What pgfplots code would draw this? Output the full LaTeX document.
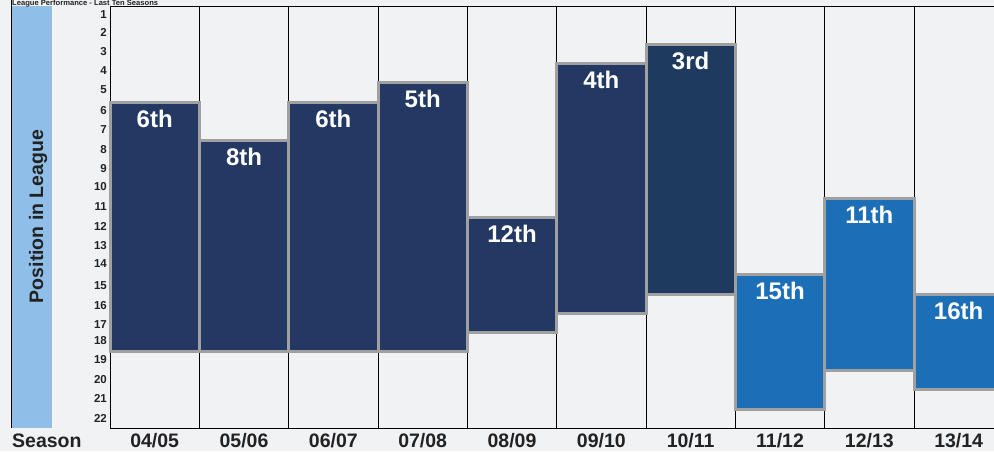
\documentclass[border=0pt]{standalone}
\usepackage{fontspec}
\setmainfont{Liberation Sans}
\usepackage{pgfplots}
\usepackage{pgfplotstable}
\pgfplotsset{compat=1.18}

\definecolor{bg}{HTML}{F1F2F4}
\definecolor{navy}{HTML}{233862}
\definecolor{navyb}{HTML}{1E3A5F}
\definecolor{midblue}{HTML}{1C6FB7}
\definecolor{band}{HTML}{8FBFE8}
\definecolor{edge}{HTML}{A0A0A0}
\definecolor{txt}{HTML}{222222}

% label positions: x, baseline (position units), text
\pgfplotstableread{
x y label
0 6.84 6th
1 8.82 8th
2 6.84 6th
3 5.79 5th
4 12.85 12th
5 4.80 4th
6 3.83 3rd
7 15.80 15th
8 11.84 11th
9 16.86 16th
}\labels

\begin{document}
\begin{tikzpicture}
\useasboundingbox (0pt,0pt) rectangle (994pt,451pt);
\fill[bg] (0pt,0pt) rectangle (994pt,451pt);
\clip (0pt,0pt) rectangle (994pt,451pt);
\fill[band] (12pt,23pt) rectangle (52pt,445pt);
\draw[black, line width=0.9pt] (11.5pt,23pt) -- (11.5pt,451pt);
\node[rotate=90, anchor=base, text=txt, inner sep=0pt,
  font=\fontsize{19.5}{20}\selectfont\bfseries] at (43pt,234.5pt) {Position in League};
\node[anchor=base west, inner sep=0pt, text=txt,
  font=\fontsize{19.5}{20}\selectfont\bfseries] at (12pt,4pt) {Season};

\begin{axis}[
  at={(110pt,23pt)}, anchor=south west,
  scale only axis, width=886pt, height=422pt,
  xmin=-0.5, xmax=9.418, ymin=0.53, ymax=22.5,
  y dir=reverse, clip=false,
  axis line style={black, line width=0.9pt},
  xtick={0,...,9},
  xticklabels={04/05,05/06,06/07,07/08,08/09,09/10,10/11,11/12,12/13,13/14},
  minor xtick={-0.5,0.5,...,9.5},
  xminorgrids=true,
  minor grid style={black, line width=0.9pt},
  ytick={1,1.92,2.91,3.90,4.87,5.98,6.96,8.00,8.99,9.92,10.99,12.00,12.99,13.95,15.11,16.12,17.11,17.94,18.95,19.99,20.98,22.00},
  yticklabels={1,2,3,4,5,6,7,8,9,10,11,12,13,14,15,16,17,18,19,20,21,22},
  major tick length=0pt, minor tick length=0pt,
  /pgf/number format/assume math mode=true,
  xticklabel style={anchor=base, yshift=-19pt, inner sep=0pt, text=txt,
    font=\fontsize{19.5}{20}\selectfont\bfseries},
  yticklabel style={anchor=east, xshift=-3pt, inner sep=0pt, text=txt,
    font=\fontsize{11.5}{12}\selectfont\bfseries},
  bar/.style={draw=edge, line width=3pt, fill=navy},
]
\addplot[bar] coordinates {(-0.5,5.54) (0.5,5.54) (0.5,18.52) (-0.5,18.52)} -- cycle;
\addplot[bar] coordinates {(0.5,7.52) (1.5,7.52) (1.5,18.52) (0.5,18.52)} -- cycle;
\addplot[bar] coordinates {(1.5,5.54) (2.5,5.54) (2.5,18.52) (1.5,18.52)} -- cycle;
\addplot[bar] coordinates {(2.5,4.49) (3.5,4.49) (3.5,18.52) (2.5,18.52)} -- cycle;
\addplot[bar] coordinates {(3.5,11.55) (4.5,11.55) (4.5,17.54) (3.5,17.54)} -- cycle;
\addplot[bar] coordinates {(4.5,3.50) (5.5,3.50) (5.5,16.55) (4.5,16.55)} -- cycle;
\addplot[bar, fill=navyb] coordinates {(5.5,2.53) (6.5,2.53) (6.5,15.55) (5.5,15.55)} -- cycle;
\addplot[bar, fill=midblue] coordinates {(6.5,14.50) (7.5,14.50) (7.5,21.56) (6.5,21.56)} -- cycle;
\addplot[bar, fill=midblue] coordinates {(7.5,10.54) (8.5,10.54) (8.5,19.51) (7.5,19.51)} -- cycle;
\addplot[bar, fill=midblue] coordinates {(8.5,15.56) (9.5,15.56) (9.5,20.51) (8.5,20.51)} -- cycle;

\addplot[draw=none, mark=none, nodes near coords, point meta=explicit symbolic,
  every node near coord/.style={anchor=base, inner sep=0pt, text=white,
    font=\fontsize{24}{24}\selectfont\bfseries}]
  table[x=x, y=y, meta=label] {\labels};
\end{axis}
\node[anchor=base west, inner sep=0pt, text=txt,
  font=\fontsize{7.6}{8}\selectfont\bfseries] at (12pt,445.4pt) {League Performance - Last Ten Seasons};
\end{tikzpicture}
\end{document}
